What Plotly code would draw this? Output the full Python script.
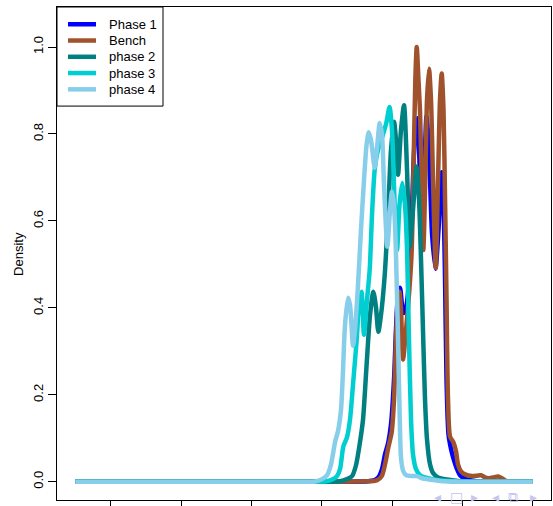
import plotly.graph_objects as go

# ---- data ----
series_names = ["Phase 1", "Bench", "phase 2", "phase 3", "phase 4"]
series_colors = ["#0000FF", "#A0522D", "#008080", "#00CED1", "#87CEEB"]

phase1_x = [0.494, 4.259, 4.657, 4.743, 4.804, 4.856, 4.899, 4.946, 4.984, 5.027, 5.055, 5.084,
            5.112, 5.159, 5.198, 5.240, 5.283, 5.319, 5.359, 5.397, 5.425, 5.454, 5.489, 5.525,
            5.568, 5.617, 5.660, 5.705, 5.731, 5.753, 5.774, 5.802, 5.838, 5.880, 5.923, 5.966,
            6.037, 6.179, 6.393, 7.0]
phase1_y = [0, 0, 0.001, 0.003, 0.010, 0.029, 0.063, 0.091, 0.132, 0.235, 0.350, 0.430,
            0.446, 0.388, 0.400, 0.460, 0.630, 0.780, 0.836, 0.700, 0.540, 0.680, 0.840, 0.760,
            0.570, 0.490, 0.580, 0.712, 0.640, 0.465, 0.235, 0.109, 0.075, 0.049, 0.029, 0.015,
            0.007, 0.002, 0.0005, 0]

bench_x = [0.494, 4.259, 4.614, 4.781, 4.852, 4.899, 4.946, 4.994, 5.027, 5.055, 5.084, 5.105,
           5.126, 5.155, 5.198, 5.240, 5.276, 5.304, 5.330, 5.350, 5.375, 5.397, 5.421, 5.444,
           5.475, 5.496, 5.525, 5.553, 5.582, 5.620, 5.653, 5.681, 5.705, 5.731, 5.753, 5.774,
           5.795, 5.824, 5.871, 5.909, 5.937, 5.980, 6.037, 6.137, 6.208, 6.265, 6.321, 6.364,
           6.435, 6.506, 6.563, 6.620, 6.705, 7.0]
bench_y = [0, 0, 0.001, 0.003, 0.013, 0.040, 0.079, 0.114, 0.189, 0.327, 0.419, 0.437,
           0.396, 0.281, 0.350, 0.430, 0.522, 0.717, 0.924, 1.000, 0.924, 0.850, 0.694, 0.533,
           0.717, 0.878, 0.950, 0.878, 0.694, 0.492, 0.694, 0.878, 0.939, 0.855, 0.648, 0.419,
           0.189, 0.104, 0.091, 0.070, 0.040, 0.024, 0.017, 0.013, 0.014, 0.015, 0.010, 0.008,
           0.010, 0.012, 0.008, 0.002, 0, 0]

phase2_x = [0.494, 4.045, 4.259, 4.358, 4.430, 4.486, 4.543, 4.586, 4.639, 4.686, 4.733, 4.771,
            4.804, 4.842, 4.895, 4.942, 4.984, 5.027, 5.055, 5.084, 5.126, 5.169, 5.212, 5.250,
            5.297, 5.347, 5.383, 5.411, 5.439, 5.468, 5.496, 5.539, 5.582, 5.653, 5.781, 5.966, 7.0]
phase2_y = [0, 0, 0.001, 0.006, 0.013, 0.038, 0.091, 0.143, 0.274, 0.384, 0.437, 0.400,
            0.345, 0.384, 0.476, 0.614, 0.763, 0.828, 0.786, 0.706, 0.809, 0.866, 0.717, 0.541,
            0.625, 0.725, 0.648, 0.511, 0.350, 0.189, 0.098, 0.040, 0.020, 0.010, 0.005, 0.001, 0]

phase3_x = [0.494, 3.832, 4.060, 4.145, 4.216, 4.259, 4.306, 4.358, 4.401, 4.444, 4.496, 4.529,
            4.564, 4.600, 4.643, 4.681, 4.714, 4.752, 4.799, 4.856, 4.917, 4.963, 4.998, 5.034,
            5.070, 5.105, 5.145, 5.183, 5.212, 5.240, 5.269, 5.297, 5.340, 5.397, 5.511, 5.681,
            5.966, 7.0]
phase3_y = [0, 0, 0.001, 0.005, 0.013, 0.029, 0.081, 0.102, 0.143, 0.224, 0.327, 0.407,
            0.437, 0.338, 0.419, 0.488, 0.614, 0.717, 0.763, 0.791, 0.825, 0.862, 0.809, 0.648,
            0.533, 0.637, 0.687, 0.637, 0.533, 0.327, 0.143, 0.063, 0.029, 0.015, 0.008, 0.003,
            0.0005, 0]

phase4_x = [0.494, 3.690, 3.903, 4.003, 4.074, 4.131, 4.188, 4.230, 4.273, 4.302, 4.330, 4.373,
            4.401, 4.444, 4.472, 4.515, 4.557, 4.600, 4.636, 4.667, 4.700, 4.752, 4.785, 4.824,
            4.856, 4.885, 4.932, 4.970, 4.998, 5.027, 5.055, 5.084, 5.112, 5.126, 5.155, 5.198,
            5.283, 5.354, 5.425, 5.539, 5.753, 7.0]
phase4_y = [0, 0, 0.0005, 0.006, 0.015, 0.040, 0.091, 0.116, 0.166, 0.258, 0.361, 0.423,
            0.407, 0.313, 0.350, 0.453, 0.579, 0.694, 0.774, 0.804, 0.786, 0.722, 0.768, 0.825,
            0.797, 0.683, 0.541, 0.625, 0.667, 0.637, 0.522, 0.327, 0.120, 0.056, 0.026, 0.015,
            0.013, 0.013, 0.008, 0.005, 0.001, 0]

x_ticks = [1, 2, 3, 4, 5, 6, 7]
y_ticks = [0.0, 0.2, 0.4, 0.6, 0.8, 1.0]
y_title = "Density"

xs = [phase1_x, bench_x, phase2_x, phase3_x, phase4_x]
ys = [phase1_y, bench_y, phase2_y, phase3_y, phase4_y]

FONT = "Liberation Sans, Arial, Helvetica, sans-serif"

fig = go.Figure()
for name, color, x, y in zip(series_names, series_colors, xs, ys):
    fig.add_trace(go.Scatter(
        x=x, y=y, mode="lines", name=name,
        line=dict(color=color, width=4.5, shape="spline", smoothing=0.7),
        showlegend=False, hoverinfo="skip"))

# manual legend (R style box in the top-left corner)
leg_rows = [0.965, 0.932, 0.899, 0.866, 0.833]
fig.add_shape(type="rect", xref="paper", yref="paper", x0=0, x1=0.2146, y0=0.799, y1=1.0,
              line=dict(color="black", width=1), fillcolor="white", layer="above")
for name, color, yy in zip(series_names, series_colors, leg_rows):
    fig.add_shape(type="line", xref="paper", yref="paper", x0=0.0223, x1=0.0789, y0=yy, y1=yy,
                  line=dict(color=color, width=4.5), layer="above")
    fig.add_annotation(xref="paper", yref="paper", x=0.1012, y=yy, text=name, showarrow=False,
                       xanchor="left", yanchor="middle", font=dict(family=FONT, size=13, color="black"))

# y-axis title
fig.add_annotation(xref="paper", yref="paper", x=-0.078, y=0.5, text=y_title, textangle=-90,
                   showarrow=False, xanchor="center", yanchor="middle",
                   font=dict(family=FONT, size=13, color="black"))

# beamer navigation symbols (faint)
nav_syms = ["◂", "□", "▸", "◂", "⧉", "▸"]
nav_pos = [0.771, 0.808, 0.846, 0.887, 0.923, 0.964]
for s, p in zip(nav_syms, nav_pos):
    fig.add_annotation(xref="paper", yref="paper", x=p, y=0.006, text=s, showarrow=False,
                       xanchor="center", yanchor="middle", borderpad=0,
                       font=dict(family="DejaVu Sans", size=14, color="#C6C6EE"))

fig.update_layout(
    width=553, height=506,
    margin=dict(l=57, r=2, t=7, b=6, autoexpand=False),
    paper_bgcolor="white", plot_bgcolor="white",
    font=dict(family=FONT, size=13, color="black"),
    showlegend=False,
)
fig.update_xaxes(range=[0.233, 7.26], tickvals=x_ticks, showticklabels=False, automargin=False,
                 ticks="outside", ticklen=7, tickwidth=1, tickcolor="black",
                 showline=True, linecolor="black", linewidth=1, mirror=True,
                 showgrid=False, zeroline=False)
fig.update_yaxes(range=[-0.042, 1.092], tickvals=y_ticks, tickformat=".1f", tickangle=-90,
                 automargin=False,
                 ticks="outside", ticklen=8, tickwidth=1, tickcolor="black",
                 showline=True, linecolor="black", linewidth=1, mirror=True,
                 showgrid=False, zeroline=False,
                 tickfont=dict(family=FONT, size=13, color="black"))

fig.write_html("out.html", config={"displayModeBar": False},
               post_script="document.body.style.margin='0';document.body.style.overflow='hidden';")
